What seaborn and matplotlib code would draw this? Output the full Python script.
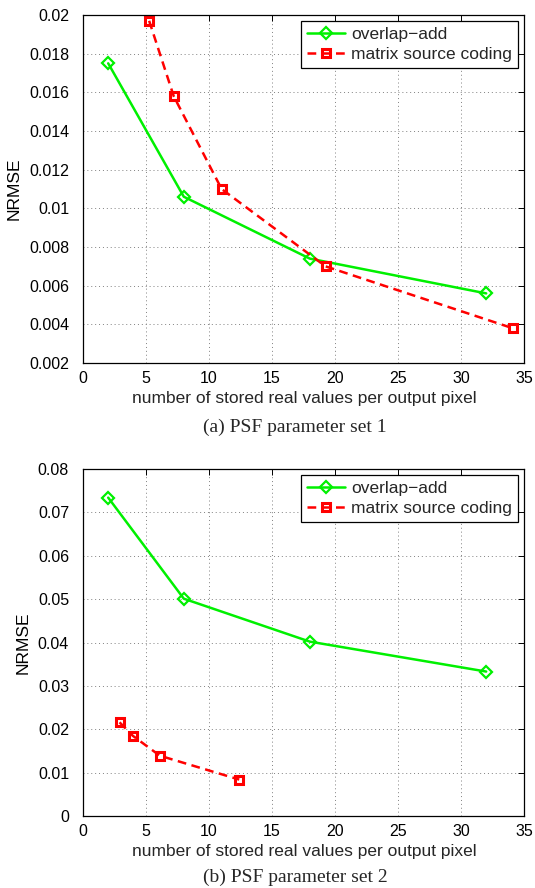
import matplotlib
matplotlib.use("Agg")
import matplotlib.pyplot as plt
import seaborn as sns
import pandas as pd
from matplotlib.ticker import FuncFormatter, MultipleLocator

# Data
ola1_x = [2, 8, 18, 32]
ola1_y = [0.0175, 0.0106, 0.0074, 0.0056]
msc1_x = [5.25, 7.2, 11.0, 19.25, 34.1]
msc1_y = [0.0197, 0.0158, 0.0110, 0.0070, 0.0038]

ola2_x = [2, 8, 18, 32]
ola2_y = [0.0734, 0.0501, 0.0402, 0.0333]
msc2_x = [2.9, 3.95, 6.1, 12.4]
msc2_y = [0.0216, 0.0185, 0.0139, 0.0084]

labels = ["overlap\u2212add", "matrix source coding"]
xlabel = "number of stored real values per output pixel"
ylabel = "NRMSE"
captions = ["(a) PSF parameter set 1", "(b) PSF parameter set 2"]

sns.set_theme(style="white")
plt.rcParams["font.family"] = ["Liberation Sans", "DejaVu Sans"]

fig = plt.figure(figsize=(5.35, 8.88), dpi=100)
ax1 = fig.add_axes([83/535, 1-363/888, 441/535, 348/888])
ax2 = fig.add_axes([83/535, 1-816/888, 441/535, 347/888])

fmt = FuncFormatter(lambda v, p: ("%g" % round(v, 6)))

def draw(ax, ox, oy, mx, my, ylim, ystep, cap, cap_y, xl_y):
    df_o = pd.DataFrame({"x": ox, "y": oy})
    df_m = pd.DataFrame({"x": mx, "y": my})
    sns.lineplot(data=df_o, x="x", y="y", ax=ax, sort=False, color="#00f000",
                 linewidth=1.8, marker="D", markersize=6.5, markerfacecolor="none",
                 markeredgecolor="#00f000", markeredgewidth=1.6, label=labels[0])
    sns.lineplot(data=df_m, x="x", y="y", ax=ax, sort=False, color="#ff0000",
                 linewidth=1.8, linestyle=(0, (3.5, 2.2)), marker="s", markersize=6,
                 markerfacecolor="none", markeredgecolor="#ff0000",
                 markeredgewidth=2.2, label=labels[1])
    ax.set_xlim(0, 35)
    ax.set_ylim(*ylim)
    ax.xaxis.set_major_locator(MultipleLocator(5))
    ax.yaxis.set_major_locator(MultipleLocator(ystep))
    ax.yaxis.set_major_formatter(fmt)
    ax.grid(True, color="0.5", linestyle=(0, (1, 3)), linewidth=0.7)
    ax.tick_params(direction="in", length=4, width=0.7, top=True, right=True,
                   labelsize=11.5, colors="black")
    ax.tick_params(axis="y", pad=10)
    ax.tick_params(axis="x", pad=6)
    for s in ax.spines.values():
        s.set_color("black")
        s.set_linewidth(0.9)
    ax.set_xlabel("")
    ax.set_ylabel(ylabel, fontsize=12.5, color="black", labelpad=5)
    fig.text(304 / 535, 1 - xl_y / 888, xlabel, ha="center", va="center",
             fontsize=12.5)
    fig.text(295 / 535, 1 - cap_y / 888, cap, ha="center", va="center",
             fontsize=14, family=["Liberation Serif", "DejaVu Serif"])
    leg = ax.legend(loc="upper right", bbox_to_anchor=(0.987, 0.982), fontsize=12.5,
                    frameon=True, fancybox=False, framealpha=1, edgecolor="black",
                    borderpad=0.35, labelspacing=0.25, handlelength=2.2,
                    handletextpad=0.35, borderaxespad=0)
    leg.get_frame().set_linewidth(0.9)

draw(ax1, ola1_x, ola1_y, msc1_x, msc1_y, (0.002, 0.02), 0.002, captions[0], 427, 398)
draw(ax2, ola2_x, ola2_y, msc2_x, msc2_y, (0, 0.08), 0.01, captions[1], 877, 851)

fig.savefig("out.png", dpi=100)
